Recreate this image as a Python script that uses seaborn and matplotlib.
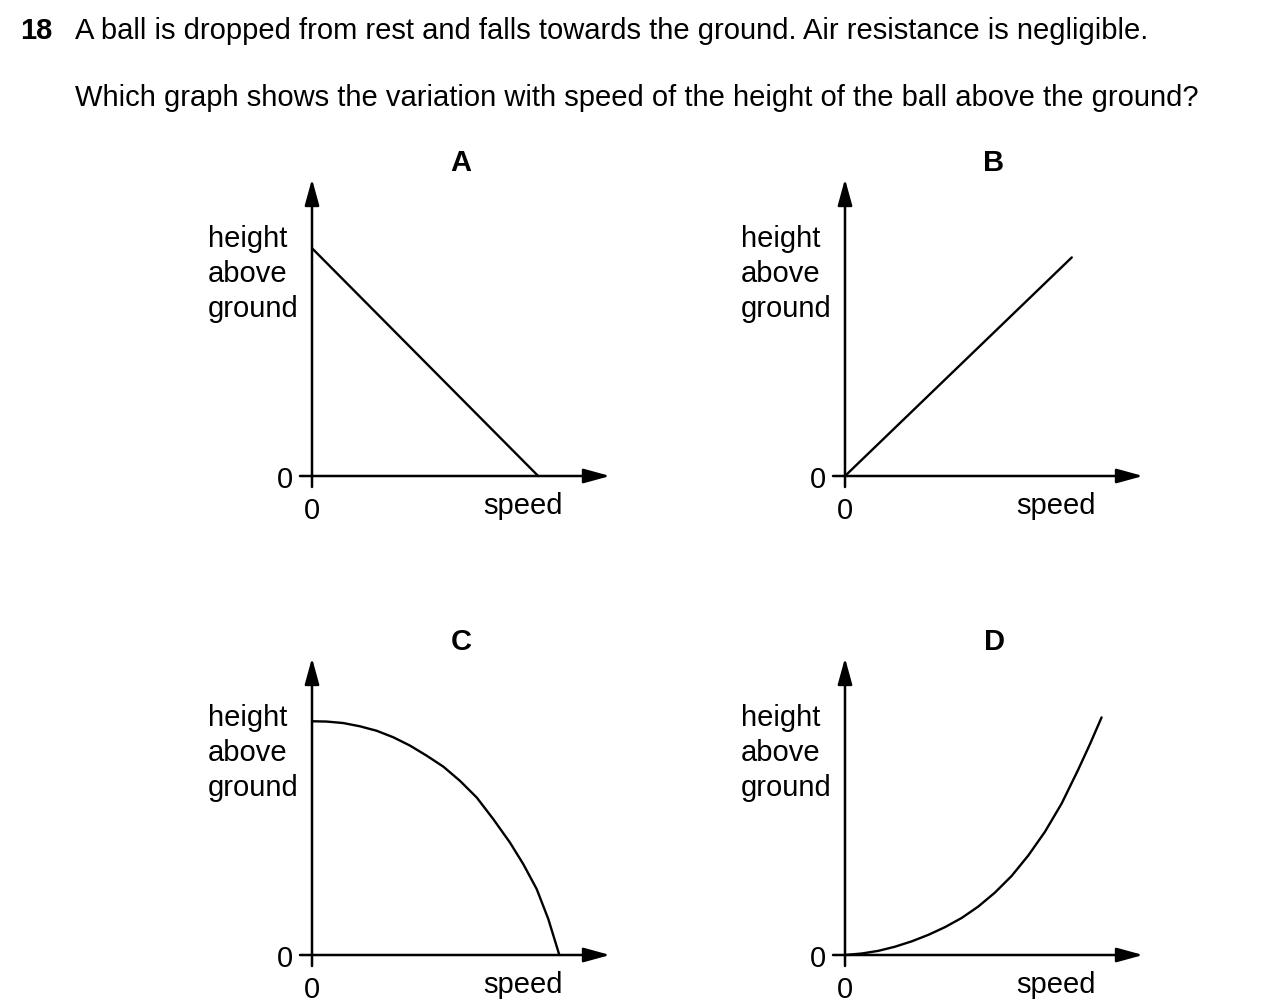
import numpy as np
import pandas as pd
import seaborn as sns
import matplotlib.pyplot as plt

# 그래프 값 : speed(가로), height(세로) - 화살표 끝 = 1
speed_a = [0.0, 0.759]
height_a = [0.767, 0.0]

speed_b = [0.0, 0.761]
height_b = [0.0, 0.736]

speed_c = [0.0, 0.049, 0.105, 0.161, 0.217, 0.273, 0.329, 0.385, 0.441,
           0.497, 0.553, 0.608, 0.664, 0.709, 0.754, 0.793, 0.830]
height_c = [0.787, 0.786, 0.781, 0.770, 0.755, 0.733, 0.705, 0.671, 0.634,
            0.586, 0.530, 0.458, 0.379, 0.306, 0.222, 0.121, 0.0]

speed_d = [0.0, 0.056, 0.112, 0.168, 0.224, 0.280, 0.336, 0.392, 0.447,
           0.503, 0.559, 0.615, 0.671, 0.727, 0.783, 0.822, 0.861]
height_d = [0.0, 0.005, 0.014, 0.028, 0.046, 0.068, 0.094, 0.125, 0.163,
            0.210, 0.266, 0.335, 0.415, 0.510, 0.625, 0.710, 0.800]

panel_names = ['A', 'B', 'C', 'D']
speeds = [speed_a, speed_b, speed_c, speed_d]
heights = [height_a, height_b, height_c, height_d]

question_no = '18'
question_1 = 'A ball is dropped from rest and falls towards the ground. Air resistance is negligible.'
question_2 = 'Which graph shows the variation with speed of the height of the ball above the ground?'
y_label = ['height', 'above', 'ground']
x_label = 'speed'

# 레이아웃 (px)
W, H = 1280, 1003
SX, SY = 298, 297            # 축 길이(px)
origins = [(312, 477), (845, 477), (312, 956), (845, 956)]
X0, X1, Y0, Y1 = -0.4, 1.05, -0.15, 1.12
DY = 3                       # 텍스트 세로 보정(px)

sns.set_theme(style='white')
plt.rcParams['font.family'] = ['Liberation Sans', 'DejaVu Sans']
plt.rcParams['text.color'] = 'black'
FS = 21

fig = plt.figure(figsize=(W / 100, H / 100), dpi=100)
fig.patch.set_facecolor('white')

# 문제 텍스트
fig.text(20 / W, 1 - (28 + DY) / H, question_no, fontsize=FS, fontweight='bold', va='center', ha='left')
fig.text(75 / W, 1 - (28 + DY) / H, question_1, fontsize=FS, va='center', ha='left')
fig.text(75 / W, 1 - (95 + DY) / H, question_2, fontsize=FS, va='center', ha='left')

for name, sp, hg, (ox, oy) in zip(panel_names, speeds, heights, origins):
    left = (ox + X0 * SX) / W
    bottom = 1 - (oy - Y0 * SY) / H
    ax = fig.add_axes([left, bottom, (X1 - X0) * SX / W, (Y1 - Y0) * SY / H])
    ax.set_xlim(X0, X1)
    ax.set_ylim(Y0, Y1)
    ax.axis('off')

    df = pd.DataFrame({'speed': sp, 'height': hg})
    sns.lineplot(data=df, x='speed', y='height', ax=ax, color='black',
                 lw=1.7, estimator=None, sort=False, solid_joinstyle='round')

    # 축 + 화살표
    arrow = dict(arrowstyle='-|>,head_length=0.8,head_width=0.22', color='black',
                 lw=1.8, shrinkA=0, shrinkB=0, mutation_scale=20)
    ax.annotate('', xy=(0, 1.0), xytext=(0, -11 / SY), arrowprops=arrow)
    ax.annotate('', xy=(1.0, 0), xytext=(-12 / SX, 0), arrowprops=arrow)

    # 축 이름
    for i, t in enumerate(y_label):
        ax.text(-104 / SX, (241 - 35 * i - DY) / SY, t, fontsize=FS, ha='left', va='center')
    ax.text(-27 / SX, -DY / SY, '0', fontsize=FS, ha='center', va='center')
    ax.text(0, (-31 - DY) / SY, '0', fontsize=FS, ha='center', va='center')
    ax.text(211 / SX, (-26 - DY) / SY, x_label, fontsize=FS, ha='center', va='center')
    ax.text(0.5, (317 - DY) / SY, name, fontsize=FS, fontweight='bold', ha='center', va='center',
            clip_on=False)

plt.savefig('out.png', dpi=100)
